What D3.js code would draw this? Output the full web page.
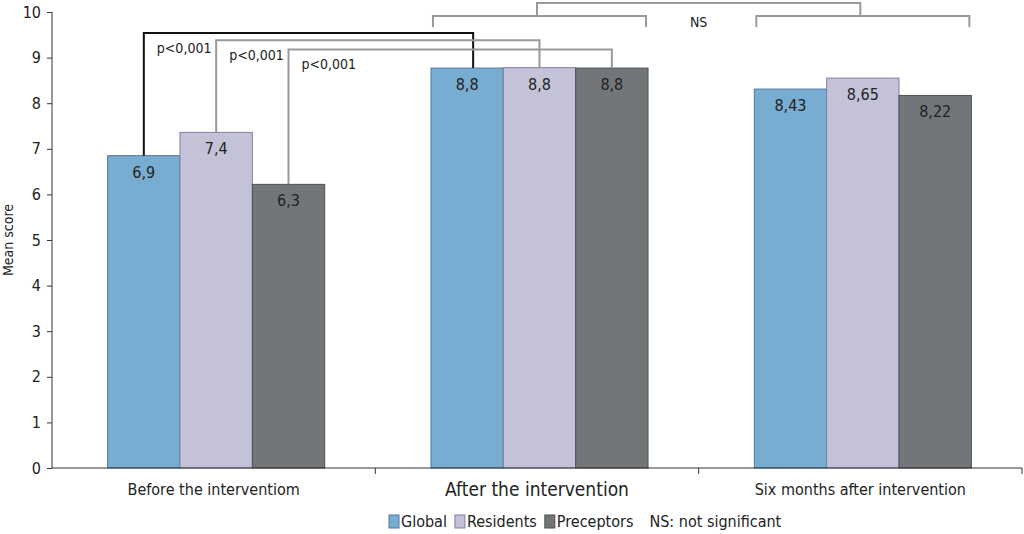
<!DOCTYPE html>
<html>
<head>
<meta charset="utf-8">
<script src="https://cdn.jsdelivr.net/npm/d3@7"></script>
<style>
  body { margin: 0; background: #fff; }
  svg text { font-family: "Liberation Sans Narrow", "DejaVu Sans Condensed", sans-serif; fill: #222; }
</style>
</head>
<body>
<svg width="1024" height="534"></svg>
<script>
// dati
const periods = ["Before the interventiom", "After the intervention", "Six months after intervention"];
const groups = ["Global", "Residents", "Preceptors"];
const globalVals = [6.85, 8.77, 8.31];
const residentVals = [7.36, 8.78, 8.55];
const preceptorVals = [6.22, 8.77, 8.17];
const globalLabels = ["6,9", "8,8", "8,43"];
const residentLabels = ["7,4", "8,8", "8,65"];
const preceptorLabels = ["6,3", "8,8", "8,22"];
const yTicks = [0, 1, 2, 3, 4, 5, 6, 7, 8, 9, 10];
// livelli delle parentesi p<0,001 (in unità dell'asse y)
const pLevels = [9.54, 9.38, 9.18];
const pTexts = ["p<0,001", "p<0,001", "p<0,001"];

const colors = { Global: "#78acd0", Residents: "#c4c2d7", Preceptors: "#727679" };
const strokes = { Global: "#4f79a3", Residents: "#7f7eaa", Preceptors: "#4d5052" };

const svg = d3.select("svg");
const width = +svg.attr("width");
const height = +svg.attr("height");
const margin = { left: 52, right: 2, top: 12, bottom: 66 };

const x = d3.scaleBand().domain(periods).range([margin.left, width - margin.right]);
const xSub = d3.scaleBand().domain(groups).range([5, x.bandwidth()]).paddingOuter(0.7);
const y = d3.scaleLinear().domain([0, 10]).range([height - margin.bottom, margin.top]);

const data = periods.map((p, i) => ({
  period: p,
  bars: [
    { key: "Global", v: globalVals[i], label: globalLabels[i] },
    { key: "Residents", v: residentVals[i], label: residentLabels[i] },
    { key: "Preceptors", v: preceptorVals[i], label: preceptorLabels[i] }
  ]
}));

// barre
const g = svg.selectAll(".period")
  .data(data)
  .join("g")
  .attr("class", "period")
  .attr("transform", d => `translate(${x(d.period)},0)`);

g.selectAll("rect")
  .data(d => d.bars)
  .join("rect")
  .attr("x", d => xSub(d.key))
  .attr("y", d => y(d.v))
  .attr("width", xSub.bandwidth())
  .attr("height", d => y(0) - y(d.v))
  .attr("fill", d => colors[d.key])
  .attr("stroke", d => strokes[d.key])
  .attr("stroke-width", 1);

g.selectAll(".val")
  .data(d => d.bars)
  .join("text")
  .attr("class", "val")
  .attr("x", d => xSub(d.key) + xSub.bandwidth() / 2)
  .attr("y", d => y(d.v) + 22)
  .attr("text-anchor", "middle")
  .attr("font-size", "16px")
  .text(d => d.label);

// asse y
const yAxis = svg.append("g")
  .attr("transform", `translate(${margin.left},0)`)
  .call(d3.axisLeft(y).tickValues(yTicks).tickSize(5).tickPadding(6).tickFormat(d3.format("d")));
yAxis.selectAll("text").attr("font-size", "16px");
yAxis.selectAll("line, path").attr("stroke", "#333");
yAxis.select(".domain").attr("d", `M0,${y(0)}V${y(10)}`);

svg.append("text")
  .attr("transform", `translate(13, ${y(5)}) rotate(-90)`)
  .attr("text-anchor", "middle")
  .attr("font-size", "14px")
  .text("Mean score");

// asse x
const xAxis = svg.append("g").attr("transform", `translate(0,${y(0)})`);
xAxis.append("line")
  .attr("x1", margin.left).attr("x2", width - margin.right)
  .attr("stroke", "#333");
xAxis.selectAll(".xt")
  .data(periods.slice(1).concat(["end"]))
  .join("line")
  .attr("x1", d => d === "end" ? width - margin.right : x(d))
  .attr("x2", d => d === "end" ? width - margin.right : x(d))
  .attr("y2", 6)
  .attr("stroke", "#333");
xAxis.selectAll(".xl")
  .data(periods)
  .join("text")
  .attr("x", d => x(d) + x.bandwidth() / 2)
  .attr("y", (d, i) => i === 1 ? 28 : 27)
  .attr("text-anchor", "middle")
  .attr("font-size", (d, i) => i === 1 ? "19px" : "16px")
  .text(d => d);

// parentesi p<0,001
const cx = (p, k) => x(p) + xSub(k) + xSub.bandwidth() / 2;
const brackets = svg.append("g").attr("fill", "none");
groups.forEach((k, i) => {
  const x1 = cx(periods[0], k), x2 = cx(periods[1], k) + (i === 0 ? 6 : 0);
  const y1 = y(data[0].bars[i].v), y2 = y(data[1].bars[i].v);
  brackets.append("path")
    .attr("d", `M${x1},${y1}V${y(pLevels[i])}H${x2}V${y2}`)
    .attr("stroke", i === 0 ? "#111" : "#999")
    .attr("stroke-width", 2);
  svg.append("text")
    .attr("x", x1 + 13)
    .attr("y", y(pLevels[i]) + 20)
    .attr("font-size", "14px")
    .text(pTexts[i]);
});

// parentesi NS
const nsLow = 9.67, nsMid = 9.91, nsTop = 10.2;
const groupLeft = p => x(p) + xSub("Global");
const groupRight = p => x(p) + xSub("Preceptors") + xSub.bandwidth();
const groupMid = p => x(p) + x.bandwidth() / 2;
[periods[1], periods[2]].forEach(p => {
  brackets.append("path")
    .attr("d", `M${groupLeft(p) + 2},${y(nsLow)}V${y(nsMid)}H${groupRight(p) - 2}V${y(nsLow)}`)
    .attr("stroke", "#999").attr("stroke-width", 2);
});
brackets.append("path")
  .attr("d", `M${groupMid(periods[1])},${y(nsMid)}V${y(nsTop)}H${groupMid(periods[2])}V${y(nsMid)}`)
  .attr("stroke", "#999").attr("stroke-width", 2);
svg.append("text")
  .attr("x", (groupMid(periods[1]) + groupMid(periods[2])) / 2)
  .attr("y", y(nsMid) + 11)
  .attr("text-anchor", "middle")
  .attr("font-size", "14px")
  .text("NS");

// legenda
const legendItems = groups.map(k => ({ key: k, color: colors[k], stroke: strokes[k] }));
const legend = svg.append("g").attr("transform", "translate(389, 515)");
let lx = 0;
legendItems.forEach(d => {
  legend.append("rect")
    .attr("x", lx).attr("y", 0).attr("width", 10).attr("height", 13)
    .attr("fill", d.color).attr("stroke", d.stroke);
  const t = legend.append("text")
    .attr("x", lx + 12).attr("y", 12)
    .attr("font-size", "16px")
    .text(d.key);
  lx += 12 + t.node().getComputedTextLength() + 8;
});
legend.append("text")
  .attr("x", lx + 8).attr("y", 12)
  .attr("font-size", "16px")
  .text("NS: not significant");
</script>
</body>
</html>
